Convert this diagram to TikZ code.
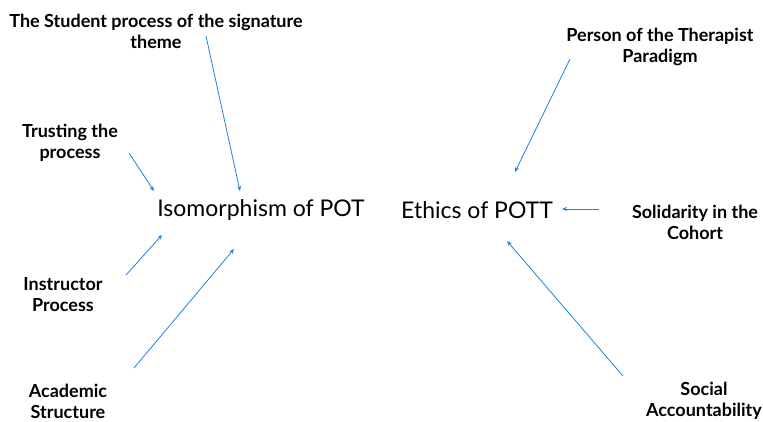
\documentclass[tikz,border=0pt]{standalone}
\usepackage{fontspec}
\setmainfont{Lato}
\usetikzlibrary{arrows.meta}
\definecolor{arrowblue}{RGB}{30,128,230}
\tikzset{
  lbl/.style={font=\bfseries\fontsize{18}{21}\selectfont, align=center, inner sep=0pt},
  big/.style={font=\fontsize{23}{28}\selectfont, inner sep=0pt},
  conn/.style={draw=arrowblue, line width=0.8pt, -{Stealth[length=5pt,width=4pt]}}
}
\begin{document}
\begin{tikzpicture}[x=1pt,y=-1pt]
\useasboundingbox (0,0) rectangle (763,421);
% central nodes
\node[big] (iso) at (261,210) {Isomorphism of POT};
\node[big] (eth) at (477,210) {Ethics of POTT};
% labels
\node[lbl] (stu) at (156,31) {The Student process of the signature\\theme};
\node[lbl] (tru) at (70,143) {Trusting the\\process};
\node[lbl] (ins) at (63,295) {Instructor\\Process};
\node[lbl] (aca) at (68,401) {Academic\\Structure};
\node[lbl] (per) at (660,47) {Person of the Therapist\\Paradigm};
\node[lbl] (sol) at (695,222) {Solidarity in the\\Cohort};
\node[lbl] (soc) at (704,401) {Social\\Accountability};
% connector end points
\coordinate (stuA) at (206,36);  \coordinate (stuB) at (240,191);
\coordinate (truA) at (129,153); \coordinate (truB) at (154,191);
\coordinate (insA) at (126,275); \coordinate (insB) at (162,235);
\coordinate (acaA) at (134,368); \coordinate (acaB) at (234,249);
\coordinate (perA) at (570,59);  \coordinate (perB) at (515,172);
\coordinate (solA) at (599,209); \coordinate (solB) at (562,209);
\coordinate (socA) at (623,376); \coordinate (socB) at (507,241);
% connectors
\draw[conn] (stuA) -- (stuB);
\draw[conn] (truA) -- (truB);
\draw[conn] (insA) -- (insB);
\draw[conn] (acaA) -- (acaB);
\draw[conn] (perA) -- (perB);
\draw[conn] (solA) -- (solB);
\draw[conn] (socA) -- (socB);
\end{tikzpicture}
\end{document}
